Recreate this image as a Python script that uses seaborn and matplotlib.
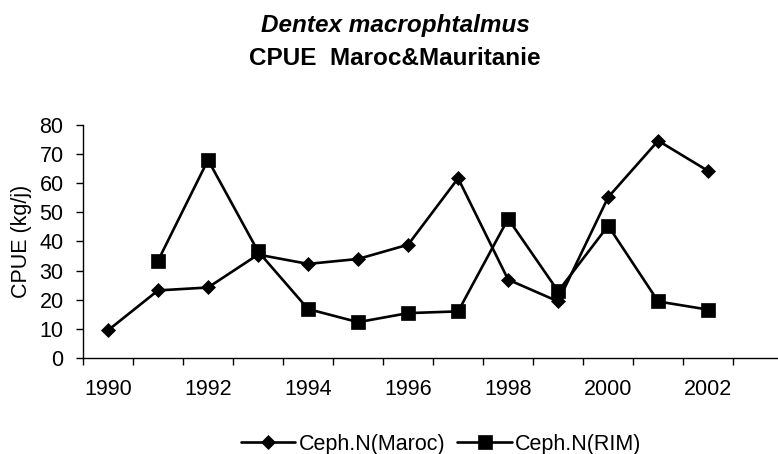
import matplotlib
matplotlib.use("Agg")
import matplotlib.pyplot as plt
import seaborn as sns
import numpy as np
import pandas as pd

# CPUE values (kg/j)
years = list(range(1990, 2003))
maroc = [9.5, 23.2, 24.2, 35.5, 32.3, 34.0, 38.9, 61.7, 26.9, 19.4, 55.2, 74.6, 64.2]
rim = [np.nan, 33.4, 68.0, 36.6, 16.8, 12.3, 15.4, 16.0, 47.8, 22.9, 45.4, 19.4, 16.6]
series_names = ["Ceph.N(Maroc)", "Ceph.N(RIM)"]
year_labels = [1990, 1992, 1994, 1996, 1998, 2000, 2002]

sns.set_style("white")
plt.rcParams["font.family"] = ["Liberation Sans", "DejaVu Sans"]
plt.rcParams.update({"text.color": "black", "axes.labelcolor": "black",
                     "xtick.color": "black", "ytick.color": "black"})

df = pd.DataFrame({
    "year": years * 2,
    "cpue": maroc + rim,
    "serie": [series_names[0]] * len(years) + [series_names[1]] * len(years),
})

fs = 15.5

fig = plt.figure(figsize=(7.78, 4.54), dpi=100)
ax = fig.add_axes([0.1067, 0.2115, 0.9, 0.5132])

styles = {series_names[0]: ("D", 7.5), series_names[1]: ("s", 10.5)}
for name, (mk, ms) in styles.items():
    sub = df[df["serie"] == name].dropna()
    sns.lineplot(data=sub, x="year", y="cpue", ax=ax, color="black", lw=1.9,
                 marker=mk, markersize=ms, markeredgecolor="black",
                 markeredgewidth=0.5, label=name)

# category-style axis: ticks between years, labels on every other year
ax.set_xlim(1989.5, 2003.5)
ax.set_xticks(np.arange(1989.5, 2004, 1.0))
ax.set_xticklabels([])
ax.set_xticks(year_labels, minor=True)
ax.set_xticklabels([str(y) for y in year_labels], minor=True)
ax.tick_params(axis="x", which="major", direction="out", length=5, width=1, color="black", bottom=True)
ax.tick_params(axis="x", which="minor", length=0, pad=15, labelsize=fs, bottom=True)

ax.set_ylim(0, 80)
ax.set_yticks(range(0, 81, 10))
ax.tick_params(axis="y", direction="out", length=5, width=1, color="black", pad=9, labelsize=fs, left=True)

ax.set_xlabel("")
ax.set_ylabel("CPUE (kg/j)", fontsize=fs)
ax.yaxis.set_label_coords(-0.073, 0.5)

for side in ["top", "right"]:
    ax.spines[side].set_visible(False)
for side in ["left", "bottom"]:
    ax.spines[side].set_color("black")
    ax.spines[side].set_linewidth(1)

handles, labels = ax.get_legend_handles_labels()
ax.get_legend().remove()
fig.legend(handles, labels, loc="center", bbox_to_anchor=(0.567, 0.022), ncol=2,
           frameon=False, fontsize=fs, handlelength=2.55, columnspacing=0.55,
           handletextpad=0.15)

fig.text(0.508, 0.944, "Dentex macrophtalmus", ha="center", va="center",
         fontsize=17.5, fontweight="bold", fontstyle="italic")
fig.text(0.508, 0.872, "CPUE  Maroc&Mauritanie", ha="center", va="center",
         fontsize=17.5, fontweight="bold")

fig.savefig("out.png", dpi=100)
